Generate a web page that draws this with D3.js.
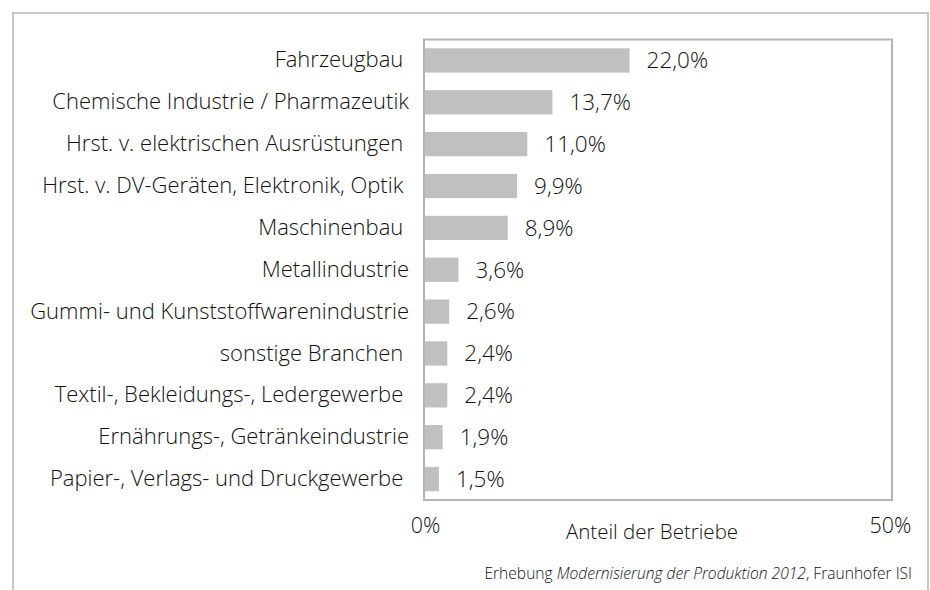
<!DOCTYPE html>
<html>
<head>
<meta charset="utf-8">
<script src="https://cdn.jsdelivr.net/npm/d3@7"></script>
<style>
  body { margin: 0; background: #fff; }
  svg text { font-family: "Open Sans", "Noto Sans", sans-serif; font-weight: 300; fill: #111; }
</style>
</head>
<body>
<svg id="chart" width="930" height="590"></svg>
<script>
// Branchen und Anteile (in %)
const categories = [
  'Fahrzeugbau ',
  'Chemische Industrie / Pharmazeutik',
  'Hrst. v. elektrischen Ausrüstungen ',
  'Hrst. v. DV-Geräten, Elektronik, Optik ',
  'Maschinenbau ',
  'Metallindustrie',
  'Gummi- und Kunststoffwarenindustrie',
  'sonstige Branchen ',
  'Textil-, Bekleidungs-, Ledergewerbe ',
  'Ernährungs-, Getränkeindustrie',
  'Papier-, Verlags- und Druckgewerbe '
];
const values = [22.0, 13.7, 11.0, 9.9, 8.9, 3.6, 2.6, 2.4, 2.4, 1.9, 1.5];
const tickValues = [0, 50];
const axisTitle = 'Anteil der Betriebe';

const svg = d3.select('#chart');

// Plot area
const plot = { left: 424, right: 892, top: 39.5, bottom: 500 };

const de = d3.formatLocale({ decimal: ',', thousands: '.', grouping: [3], currency: ['', ' €'] });
const fmtValue = v => de.format('.1f')(v) + '%';

const x = d3.scaleLinear().domain([0, 50]).range([plot.left + 1, plot.right - 2]);
const y = d3.scaleBand()
  .domain(categories)
  .range([plot.top, plot.bottom])
  .paddingInner(0.42)
  .paddingOuter(0.21);

// outer frame
svg.append('rect')
  .attr('x', 13).attr('y', 13)
  .attr('width', 915).attr('height', 600)
  .attr('fill', 'none')
  .attr('stroke', '#c8c8c8')
  .attr('stroke-width', 2);

// bars
svg.append('g')
  .selectAll('rect')
  .data(values)
  .join('rect')
  .attr('x', x(0))
  .attr('y', (d, i) => y(categories[i]))
  .attr('width', d => x(d) - x(0))
  .attr('height', y.bandwidth())
  .attr('fill', '#c0c0c0');

// plot frame
svg.append('rect')
  .attr('x', plot.left).attr('y', plot.top)
  .attr('width', plot.right - plot.left)
  .attr('height', plot.bottom - plot.top)
  .attr('fill', 'none')
  .attr('stroke', '#b4b4b4')
  .attr('stroke-width', 2);

// value labels
svg.append('g')
  .selectAll('text')
  .data(values)
  .join('text')
  .attr('x', d => x(d) + 17)
  .attr('y', (d, i) => y(categories[i]) + y.bandwidth() / 2)
  .attr('dy', '0.35em')
  .style('font-size', '22.5px')
  .text(d => fmtValue(d));

// category axis
const yAxis = svg.append('g')
  .attr('transform', `translate(${plot.left},0)`)
  .call(d3.axisLeft(y).tickSize(0).tickPadding(15));
yAxis.select('.domain').remove();
yAxis.selectAll('text')
  .attr('xml:space', 'preserve')
  .style('white-space', 'pre')
  .style('font-size', '22px')
  .style('font-family', null);

// value axis (0% / 50%)
const xAxis = svg.append('g')
  .attr('transform', `translate(0,${plot.bottom})`)
  .call(d3.axisBottom(x).tickValues(tickValues).tickSize(0).tickPadding(18).tickFormat(d => d + '%'));
xAxis.select('.domain').remove();
xAxis.selectAll('text')
  .style('font-size', '21.5px')
  .style('font-family', null);

svg.append('text')
  .attr('x', 652)
  .attr('y', 539)
  .attr('text-anchor', 'middle')
  .style('font-size', '20.5px')
  .text(axisTitle);

// source note
const note = svg.append('text')
  .attr('x', 912)
  .attr('y', 579)
  .attr('text-anchor', 'end')
  .style('font-size', '15.6px');
note.append('tspan').text('Erhebung ');
note.append('tspan').style('font-style', 'italic').text('Modernisierung der Produktion 2012');
note.append('tspan').text(', Fraunhofer ISI');
</script>
</body>
</html>
